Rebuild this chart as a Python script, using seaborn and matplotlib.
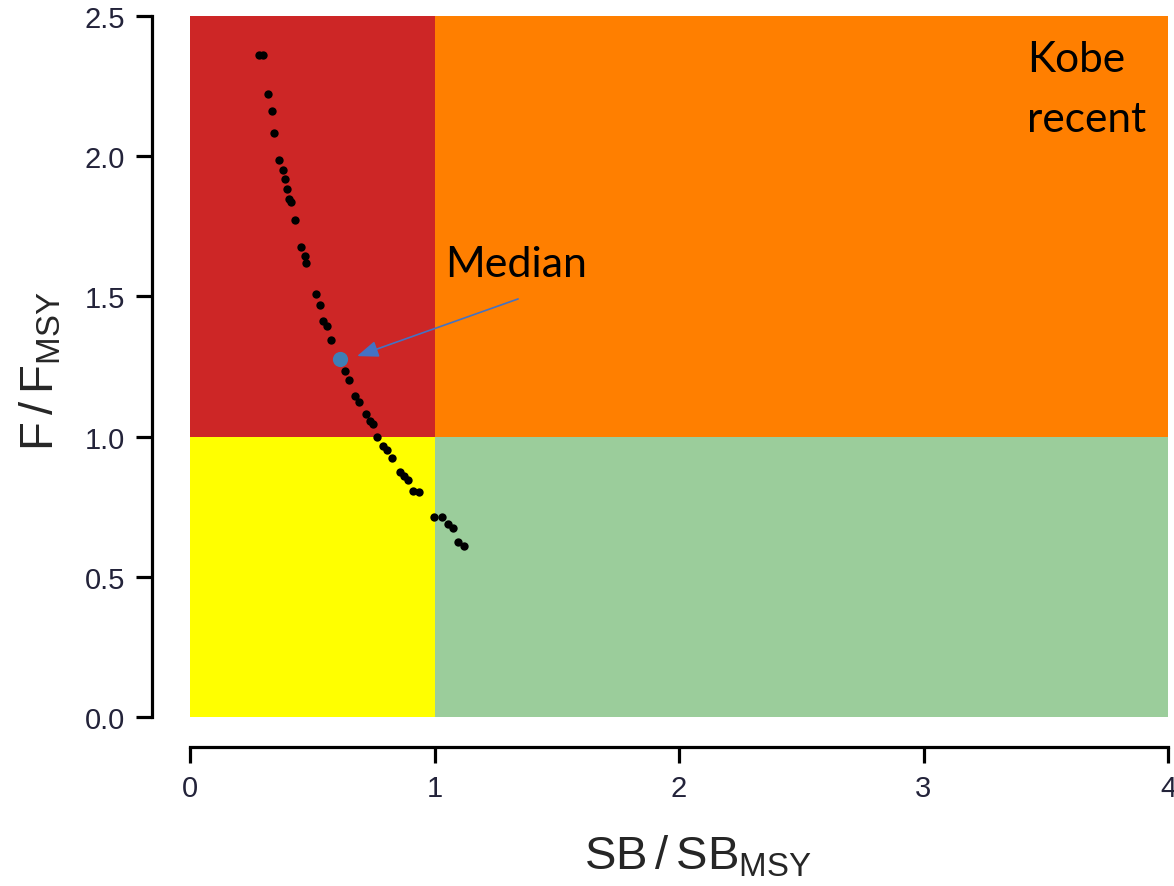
import matplotlib
matplotlib.use("Agg")
import matplotlib.pyplot as plt
import matplotlib.patches as mpatches
import seaborn as sns
import pandas as pd

# ---- data ----
sb_ratio = [0.282, 0.299, 0.319, 0.335, 0.344, 0.364, 0.380, 0.389, 0.397, 0.405,
            0.413, 0.429, 0.454, 0.470, 0.474, 0.515, 0.532, 0.544, 0.560, 0.577,
            0.634, 0.650, 0.675, 0.691, 0.720, 0.736, 0.748, 0.765, 0.789, 0.806,
            0.826, 0.859, 0.875, 0.892, 0.912, 0.937, 0.998, 1.031, 1.055, 1.076,
            1.096, 1.121]
f_ratio = [2.361, 2.361, 2.222, 2.161, 2.083, 1.986, 1.951, 1.919, 1.883, 1.847,
           1.837, 1.772, 1.676, 1.644, 1.619, 1.509, 1.469, 1.412, 1.394, 1.345,
           1.234, 1.202, 1.145, 1.123, 1.081, 1.056, 1.045, 0.999, 0.966, 0.952,
           0.924, 0.874, 0.859, 0.845, 0.806, 0.802, 0.713, 0.713, 0.688, 0.674,
           0.624, 0.610]
median_sb = [0.613]
median_f = [1.277]

x_bounds = [0.0, 1.0, 4.0]
y_bounds = [0.0, 1.0, 2.5]
quad_colors = {("low", "high"): "#CD2626", ("high", "high"): "#FF7F00",
               ("low", "low"): "#FFFF00", ("high", "low"): "#9BCD9B"}

x_ticks = [0, 1, 2, 3, 4]
y_ticks = [0.0, 0.5, 1.0, 1.5, 2.0, 2.5]
y_tick_labels = ["0.0", "0.5", "1.0", "1.5", "2.0", "2.5"]

df = pd.DataFrame({"sb": sb_ratio, "f": f_ratio})
dfm = pd.DataFrame({"sb": median_sb, "f": median_f})

# ---- style ----
sns.set_style("ticks")
plt.rcParams["font.family"] = ["Liberation Sans", "DejaVu Sans"]
plt.rcParams["mathtext.default"] = "regular"

fig = plt.figure(figsize=(11.74, 8.87), dpi=100)
ax = fig.add_axes([190 / 1174, 1 - 718 / 887, 978 / 1174, 701 / 887])

# quadrants
for i, xs in enumerate(["low", "high"]):
    for j, ys in enumerate(["low", "high"]):
        ax.add_patch(mpatches.Rectangle((x_bounds[i], y_bounds[j]),
                                        x_bounds[i + 1] - x_bounds[i],
                                        y_bounds[j + 1] - y_bounds[j],
                                        facecolor=quad_colors[(xs, ys)],
                                        edgecolor="none", zorder=0))

sns.scatterplot(data=df, x="sb", y="f", ax=ax, color="black", s=36,
                linewidth=0, zorder=3, legend=False)
sns.scatterplot(data=dfm, x="sb", y="f", ax=ax, color="#3F7EB5", s=120,
                linewidth=0, zorder=4, legend=False)

ax.annotate("", xy=(0.683, 1.287), xytext=(1.342, 1.491),
            arrowprops=dict(arrowstyle="-|>,head_length=1.3,head_width=0.5",
                            color="#4472C4", lw=1.2, shrinkA=0, shrinkB=0),
            zorder=5)
txt_font = ["Lato", "DejaVu Sans"]
ax.text(1.043, 1.573, "Median", family=txt_font, fontsize=31,
        color="black", va="baseline", ha="left", zorder=6)
ax.text(3.423, 2.304, "Kobe", family=txt_font, fontsize=30.5,
        color="black", va="baseline", ha="left", zorder=6)
ax.text(3.423, 2.090, "recent", family=txt_font, fontsize=30.5,
        color="black", va="baseline", ha="left", zorder=6)

ax.set_xlim(0, 4)
ax.set_ylim(0, 2.5)
ax.set_xticks(x_ticks)
ax.set_xticklabels([str(t) for t in x_ticks])
ax.set_yticks(y_ticks)
ax.set_yticklabels(y_tick_labels)

for side in ["top", "right"]:
    ax.spines[side].set_visible(False)
ax.spines["left"].set_position(("outward", 27.4))
ax.spines["bottom"].set_position(("outward", 21.6))
for side in ["left", "bottom"]:
    ax.spines[side].set_linewidth(2.3)
    ax.spines[side].set_color("black")
ax.tick_params(axis="both", length=11.5, width=2.3, color="black",
               labelsize=21, labelcolor="#23233a", pad=8)

ax.set_xlabel(r"SB$\,$/$\,$SB$_{MSY}$", fontsize=34, va="center")
ax.set_ylabel(r"F$\,$/$\,$F$_{MSY}$", fontsize=34, va="center")
ax.xaxis.set_label_coords(0.519, -0.198)
ax.yaxis.set_label_coords(-0.153, 0.494)

fig.savefig("out.png", dpi=100)
